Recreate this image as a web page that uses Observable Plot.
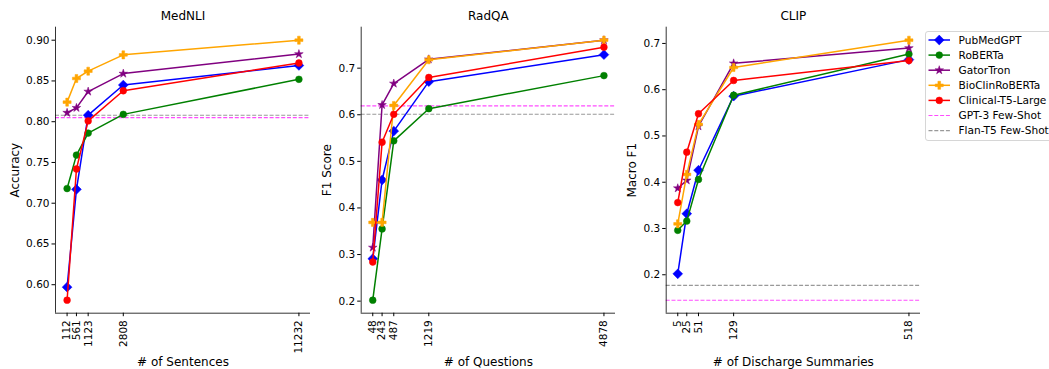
<!DOCTYPE html>
<html><head><meta charset="utf-8">
<script src="https://cdn.jsdelivr.net/npm/d3@7"></script>
<script src="https://cdn.jsdelivr.net/npm/@observablehq/plot@0.6"></script>
<style>
html,body{margin:0;padding:0;background:#fff;}
#wrap{position:relative;width:1049px;height:369px;overflow:hidden;font-family:"DejaVu Sans",sans-serif;}
#wrap > svg, #wrap > div{position:absolute;top:0;}
</style></head>
<body><div id="wrap"></div>
<script>
// ---- data ----
const models = ["PubMedGPT", "RoBERTa", "GatorTron", "BioClinRoBERTa", "Clinical-T5-Large"];
const modelColors = ["blue", "green", "purple", "orange", "red"];
const modelSymbols = ["diamond", "circle", "star", "cross", "circle"];
const baselines = ["GPT-3 Few-Shot", "Flan-T5 Few-Shot"];
const baselineColors = ["#ff00ff", "#808080"];

const mednliX = [112, 561, 1123, 2808, 11232];
const mednliPubMedGPT = [0.597, 0.717, 0.808, 0.845, 0.869];
const mednliRoBERTa = [0.718, 0.759, 0.786, 0.809, 0.852];
const mednliGatorTron = [0.811, 0.817, 0.837, 0.859, 0.883];
const mednliBioClin = [0.824, 0.853, 0.862, 0.882, 0.900];
const mednliT5 = [0.581, 0.742, 0.801, 0.838, 0.872];
const mednliGPT3 = 0.805, mednliFlan = 0.808;

const radqaX = [48, 243, 487, 1219, 4878];
const radqaPubMedGPT = [0.291, 0.460, 0.565, 0.671, 0.729];
const radqaRoBERTa = [0.202, 0.355, 0.544, 0.613, 0.684];
const radqaGatorTron = [0.315, 0.621, 0.667, 0.719, 0.760];
const radqaBioClin = [0.369, 0.369, 0.620, 0.718, 0.760];
const radqaT5 = [0.284, 0.541, 0.601, 0.680, 0.745];
const radqaGPT3 = 0.619, radqaFlan = 0.601;

const clipX = [5, 25, 51, 129, 518];
const clipPubMedGPT = [0.202, 0.332, 0.426, 0.586, 0.665];
const clipRoBERTa = [0.296, 0.316, 0.406, 0.588, 0.677];
const clipGatorTron = [0.387, 0.404, 0.521, 0.657, 0.690];
const clipBioClin = [0.310, 0.417, 0.525, 0.648, 0.707];
const clipT5 = [0.356, 0.465, 0.548, 0.620, 0.663];
const clipGPT3 = 0.145, clipFlan = 0.177;

const panels = [
  {title: "MedNLI", xlabel: "# of Sentences", ylabel: "Accuracy", x: mednliX,
   series: [mednliPubMedGPT, mednliRoBERTa, mednliGatorTron, mednliBioClin, mednliT5],
   base: [mednliGPT3, mednliFlan], yticks: [0.60,0.65,0.70,0.75,0.80,0.85,0.90], yfmt: ".2f",
   left: 0, width: 315, ml: 55, mr: 5, ylabX: 15},
  {title: "RadQA", xlabel: "# of Questions", ylabel: "F1 Score", x: radqaX,
   series: [radqaPubMedGPT, radqaRoBERTa, radqaGatorTron, radqaBioClin, radqaT5],
   base: [radqaGPT3, radqaFlan], yticks: [0.2,0.3,0.4,0.5,0.6,0.7], yfmt: ".1f",
   left: 315, width: 305, ml: 45.7, mr: 5, ylabX: 326.7},
  {title: "CLIP", xlabel: "# of Discharge Summaries", ylabel: "Macro F1", x: clipX,
   series: [clipPubMedGPT, clipRoBERTa, clipGatorTron, clipBioClin, clipT5],
   base: [clipGPT3, clipFlan], yticks: [0.2,0.3,0.4,0.5,0.6,0.7], yfmt: ".1f",
   left: 620, width: 305, ml: 45.7, mr: 5, ylabX: 631.7}
];

const H = 369, MT = 26.7, MB = 369 - 312.7;
const wrap = document.getElementById("wrap");

function pad(lo, hi) { const m = (hi - lo) * 0.05; return [lo - m, hi + m]; }
const symR = {diamond: 3.9, star: 2.7, cross: 3.4, circle: 3.4};
const symName = {diamond: "square", star: "star", cross: "cross", circle: "circle"};
const symD3 = {diamond: d3.symbolSquare, star: d3.symbolStar, cross: d3.symbolCross, circle: d3.symbolCircle};

for (const p of panels) {
  const allY = p.series.flat().concat(p.base);
  const yd = pad(d3.min(allY), d3.max(allY));
  const xd = pad(d3.min(p.x), d3.max(p.x));
  const marks = [];
  p.base.forEach((v, i) => {
    marks.push(Plot.ruleY([v], {stroke: baselineColors[i], strokeOpacity: i === 0 ? 0.7 : 0.8, strokeWidth: 1.1, strokeDasharray: "4,1.8"}));
  });
  p.series.forEach((ys, i) => {
    const data = p.x.map((x, j) => ({x, y: ys[j]}));
    const sym = modelSymbols[i];
    marks.push(Plot.line(data, {x: "x", y: "y", stroke: modelColors[i], strokeWidth: 1.5}));
    marks.push(Plot.dot(data, {x: "x", y: "y", symbol: () => symName[sym], fill: modelColors[i], stroke: modelColors[i],
      strokeWidth: 0.5, r: symR[sym], rotate: sym === "diamond" ? 45 : 0}));
  });
  marks.push(Plot.ruleX([xd[0]], {stroke: "#000", strokeWidth: 0.8}));
  marks.push(Plot.ruleY([yd[0]], {stroke: "#000", strokeWidth: 0.8}));
  marks.push(Plot.axisX({ticks: p.x, tickFormat: d3.format("d"), tickRotate: -90, tickSize: 3.5, tickPadding: 3.5, label: null, fontSize: 10.5}));
  marks.push(Plot.axisY({ticks: p.yticks, tickFormat: d3.format(p.yfmt), tickSize: 3.5, tickPadding: 2.5, label: null, fontSize: 10.5}));
  marks.push(Plot.text([p.title], {frameAnchor: "top", lineAnchor: "middle", textAnchor: "middle", dy: -10.7, text: d => d, fontSize: 12, fill: "#000"}));
  marks.push(Plot.text([p.xlabel], {frameAnchor: "bottom", lineAnchor: "middle", textAnchor: "middle", dy: 49, text: d => d, fontSize: 12, fill: "#000"}));
  marks.push(Plot.text([p.ylabel], {frameAnchor: "left", lineAnchor: "middle", textAnchor: "middle", dx: -(p.left + p.ml - p.ylabX), text: d => d, rotate: -90, fontSize: 12, fill: "#000"}));

  const svg = Plot.plot({
    width: p.width, height: H,
    marginLeft: p.ml, marginRight: p.mr, marginTop: MT, marginBottom: MB,
    x: {type: "linear", domain: xd, range: [p.ml, p.width - p.mr]},
    y: {type: "linear", domain: yd},
    style: {fontFamily: "DejaVu Sans", fontSize: "10.5px", background: "transparent", color: "#000", overflow: "visible"},
    marks
  });
  svg.style.left = p.left + "px";
  wrap.appendChild(svg);
}

// legend
const leg = d3.select(wrap).append("svg")
  .attr("width", 124).attr("height", 112)
  .style("left", "925px").style("top", "31px");
leg.append("rect").attr("x", 0.5).attr("y", 0.5).attr("width", 140).attr("height", 109).attr("rx", 2.5)
  .attr("fill", "#fff").attr("fill-opacity", 0.8).attr("stroke", "#cccccc").attr("stroke-width", 0.8);
const labels = models.concat(baselines);
labels.forEach((name, i) => {
  const y = 9 + i * 15.1;
  const g = leg.append("g").attr("transform", `translate(0,${y})`);
  if (i < models.length) {
    g.append("line").attr("x1", 3.5).attr("x2", 25).attr("y1", 0).attr("y2", 0).attr("stroke", modelColors[i]).attr("stroke-width", 1.5);
    const sym = modelSymbols[i];
    const r = symR[sym];
    g.append("path").attr("d", d3.symbol(symD3[sym], Math.PI * r * r)())
      .attr("transform", `translate(14.25,0) rotate(${sym === "diamond" ? 45 : 0})`)
      .attr("fill", modelColors[i]).attr("stroke", modelColors[i]).attr("stroke-width", 0.5);
  } else {
    const bi = i - models.length;
    g.append("line").attr("x1", 3.5).attr("x2", 25).attr("y1", 0).attr("y2", 0).attr("stroke", baselineColors[bi])
      .attr("stroke-opacity", bi === 0 ? 0.7 : 0.8).attr("stroke-width", 1.1).attr("stroke-dasharray", "4,1.8");
  }
  g.append("text").attr("x", 33.5).attr("y", 0).attr("dy", "0.35em").attr("font-size", 10.6)
    .attr("font-family", "DejaVu Sans").attr("fill", "#000").text(name);
});
</script></body></html>
